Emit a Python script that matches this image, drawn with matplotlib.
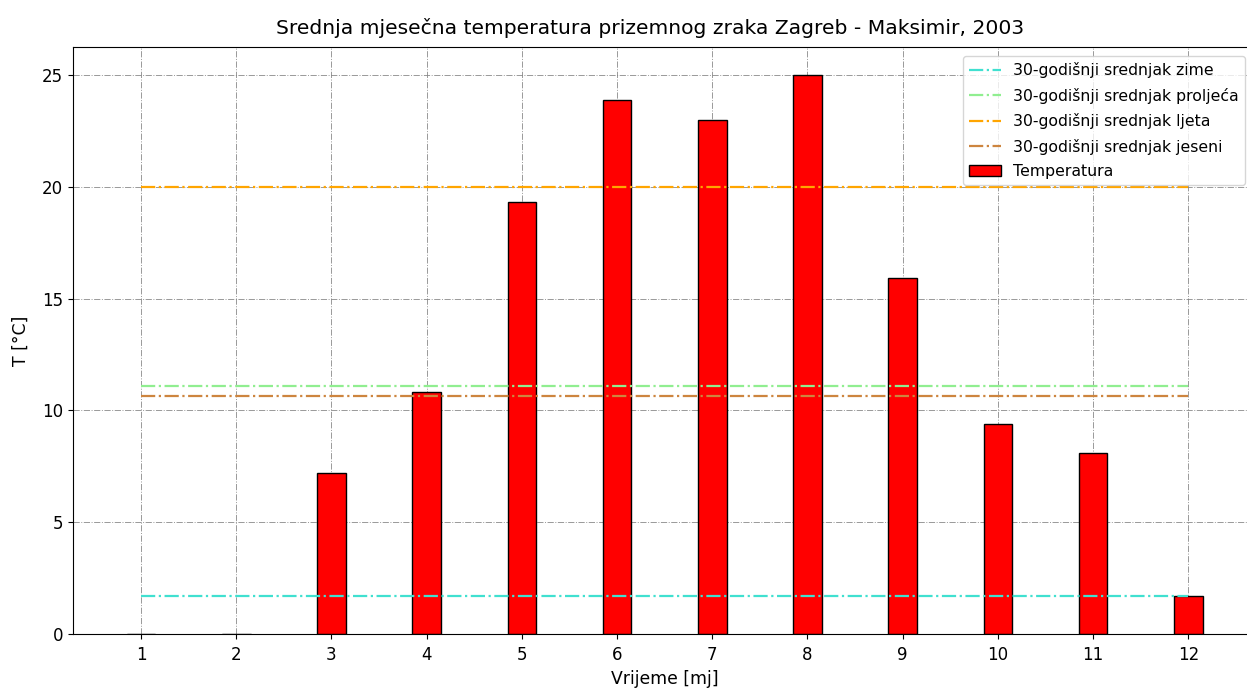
import matplotlib
matplotlib.use("Agg")
import matplotlib.pyplot as plt

months = list(range(1, 13))
temps = [-1.0, -3.0, 7.2, 10.8, 19.3, 23.9, 23.0, 25.0, 15.9, 9.4, 8.1, 1.7]

season_labels = ["30-godišnji srednjak zime", "30-godišnji srednjak proljeća",
                 "30-godišnji srednjak ljeta", "30-godišnji srednjak jeseni"]
season_means = [1.7, 11.1, 20.0, 10.65]
season_colors = ["turquoise", "lightgreen", "orange", "peru"]

fig = plt.figure(figsize=(12.47, 6.91), dpi=100)
ax = fig.add_axes([0.0585, 0.0825, 0.949, 0.8495])

for m, c, lab in zip(season_means, season_colors, season_labels):
    ax.hlines(m, months[0], months[-1], colors=c, linestyles="-.", linewidth=1.6, label=lab, zorder=3)

ax.bar(months, temps, width=0.3, color="red", edgecolor="black", label="Temperatura", zorder=2)

ax.set_ylim(bottom=0, top=26.25)
ax.set_xticks(months)
ax.grid(True, linestyle="-.", color="gray", linewidth=0.7, alpha=0.8, zorder=0)
ax.set_axisbelow(True)
ax.spines["right"].set_visible(False)
ax.tick_params(labelsize=12)
ax.tick_params(axis="x", pad=5)
ax.set_title("Srednja mjesečna temperatura prizemnog zraka Zagreb - Maksimir, 2003",
             fontsize=14.6, x=(650 - 73) / 1183, pad=9.5)
ax.set_xlabel("Vrijeme [mj]", fontsize=12.4, labelpad=4.5)
ax.set_ylabel("T [°C]", fontsize=12.4, labelpad=9)
ax.legend(loc="upper right", fontsize=11.3, bbox_to_anchor=(1245 / 1247, 1 - 56 / 691),
          bbox_transform=fig.transFigure, borderaxespad=0, labelspacing=0.6)

fig.savefig("out.png", dpi=100)
